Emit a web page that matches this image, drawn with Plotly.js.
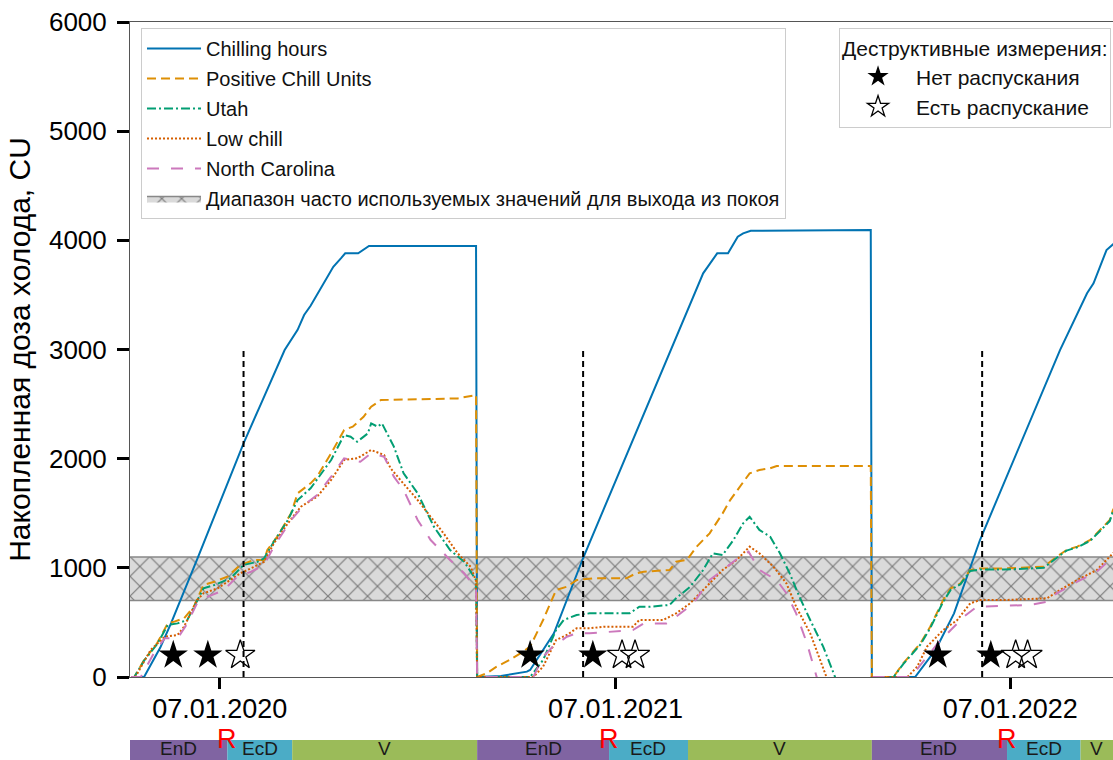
<!DOCTYPE html>
<html><head><meta charset="utf-8">
<script src="https://cdn.plot.ly/plotly-3.0.1.min.js"></script>
<style>html,body{margin:0;padding:0;background:#fff;} #chart{width:1113px;height:760px;}</style>
</head><body><div id="chart"></div>
<script>
// ---------------- DATA ----------------
const seasonStarts = ['2019-09-01', '2020-09-01', '2021-09-01'];   // day 0 of each season
const axisStart = '2019-10-16';
const axisEnd = '2022-04-12';
const tickDates = ['2020-01-07', '2021-01-07', '2022-01-07'];
const tickLabels = ['07.01.2020', '07.01.2021', '07.01.2022'];

// Chilling hours (days since season start, value)
const chDays1 = [46,58,73,83,108,129,150,166,177,188,200,206,212,219,226,233,240,244,256,261,266,365];
const chVals1 = [0,0,270,494,1100,1620,2141,2500,2745,2995,3180,3316,3400,3515,3640,3758,3835,3881,3881,3911,3948,3948];
const chDays2 = [0,22,46,49,71,98,151,204,209,222,232,241,246,253,364];
const chVals2 = [0,10,49,64,400,1090,2330,3575,3698,3881,3881,4033,4064,4088,4094];
const chDays3 = [0,40,59,76,100,174,199,205,217,224,230];
const chVals3 = [0,0,250,583,1255,2995,3515,3607,3911,3972,4050];

// Positive Chill Units
const pcuDays1 = [46,49,58,70,80,86,95,104,113,123,135,147,160,169,172,181,194,200,212,218,231,243,251,261,268,277,348,363,365];
const pcuVals1 = [0,0,155,309,492,507,538,644,843,873,919,1026,1072,1072,1163,1285,1500,1683,1774,1835,2049,2263,2293,2384,2476,2537,2552,2583,2583];
const pcuDays2 = [0,9,18,30,40,49,61,73,83,92,107,138,147,154,178,184,194,203,215,227,234,243,252,261,271,277,364];
const pcuVals2 = [0,34,95,156,217,278,522,797,827,888,904,904,950,964,980,1056,1072,1194,1316,1499,1621,1743,1866,1896,1912,1933,1933];
const pcuDays3 = [0,20,29,45,54,66,73,82,91,100,122,159,171,180,190,202,211,220,223,230];
const pcuVals3 = [0,0,125,309,461,705,812,858,980,995,995,1010,1102,1163,1194,1255,1347,1438,1530,1650];

// Utah
const utDays1 = [46,49,58,70,80,89,98,113,123,138,150,163,169,178,191,200,212,231,243,249,255,265,268,274,278,289,298,311,317,326,341,354,363,365];
const utVals1 = [0,0,150,300,476,491,522,812,843,904,1026,1056,1087,1239,1438,1621,1728,1988,2217,2201,2155,2232,2323,2293,2323,2110,1866,1683,1560,1377,1163,1056,919,888];
const utDays2 = [0,49,61,73,80,92,104,141,150,160,178,184,197,209,218,227,237,246,252,261,271,280,289,298,308,320,331,364];
const utVals2 = [0,0,156,430,522,568,583,583,644,644,660,721,827,980,1133,1117,1255,1408,1468,1347,1285,1133,950,736,522,278,0,-900];
const utDays3 = [0,20,29,45,54,66,73,82,91,100,122,159,171,180,190,202,211,220,223,230];
const utVals3 = [0,0,118,298,448,690,800,850,972,984,984,1000,1092,1158,1188,1248,1338,1428,1520,1640];

// Low chill
const lcDays1 = [46,50,64,77,89,95,107,113,126,138,147,160,169,178,191,203,218,231,243,255,268,280,286,295,311,323,335,348,360,365];
const lcVals1 = [0,0,247,369,385,461,705,767,812,888,950,1010,1056,1224,1408,1560,1652,1805,1988,2003,2079,2034,1912,1805,1621,1468,1316,1133,1010,880];
const lcDays2 = [0,52,61,73,83,92,104,117,144,150,172,184,197,215,227,240,252,261,274,286,295,308,323,364];
const lcVals2 = [0,0,95,339,385,446,446,461,461,522,522,583,675,858,980,1072,1194,1133,1010,858,644,400,0,-800];
const lcDays3 = [0,33,42,51,66,79,91,100,122,162,174,190,208,223,230];
const lcVals3 = [0,0,95,278,430,522,675,705,705,721,797,888,980,1133,1200];

// North Carolina
const ncDays1 = [46,55,67,77,89,98,107,117,132,144,157,169,178,194,206,218,231,243,258,268,280,289,298,311,323,335,341,354,365];
const ncVals1 = [0,0,217,354,354,491,675,736,797,919,964,1026,1194,1438,1576,1667,1835,2003,1972,2049,2018,1835,1713,1438,1255,1133,1072,950,812];
const ncDays2 = [0,52,61,70,83,92,104,123,144,154,175,184,200,215,227,243,251,261,277,286,295,305,314,364];
const ncVals2 = [0,0,186,278,369,400,400,415,430,491,491,552,675,888,980,1102,1148,980,888,767,583,309,0,-900];
const ncDays3 = [0,36,45,61,73,85,97,110,146,162,171,190,208,223,230];
const ncVals3 = [0,0,110,309,430,552,644,650,660,690,767,873,964,1102,1170];

// Commonly used chill range for dormancy release
const bandLow = 700;
const bandHigh = 1100;

// Destructive measurements (day of season)
const starLevel = 200;
const noBreakDays = [[85,117],[49,107],[61,110]];
const breakDays = [[147],[134,146],[133,144]];

// Vertical dashed markers (day of season) and their height
const markerDays = [150, 98, 102];
const markerTop = 3000;

// Phenological phases (day of season): EnD start, EcD start, V start, V end
const phaseBounds = [[0,135,195,366],[0,122,195,365],[0,125,193,365]];
const phaseNames = ['EnD','EcD','V'];

// ---------------- HELPERS ----------------
function dateOf(start, d) {
  const t = Date.parse(start + 'T00:00:00Z') + d * 86400000;
  return new Date(t).toISOString().slice(0, 10);
}
function build(daysList, valsList) {
  const x = [], y = [];
  daysList.forEach((days, s) => {
    days.forEach((d, i) => { x.push(dateOf(seasonStarts[s], d)); y.push(valsList[s][i]); });
  });
  return {x, y};
}
const FONT = 'Liberation Sans, Arial, sans-serif';
const C = {blue:'#0173b2', orange:'#de8f05', green:'#029e73', red:'#d55e00', pink:'#cc78bc'};

const traces = [];
// band
traces.push({
  type:'scatter', mode:'lines', name:'Диапазон часто используемых значений для выхода из покоя',
  x:['2019-09-01','2022-09-01','2022-09-01','2019-09-01','2019-09-01'],
  y:[bandLow,bandLow,bandHigh,bandHigh,bandLow],
  fill:'toself', fillcolor:'#dadada',
  fillpattern:{shape:'x', size:14, solidity:0.16, fgcolor:'#7a7a7a', bgcolor:'#dadada'},
  line:{color:'#888888', width:1.5}, legendrank:1000, legendgroup:'g6', hoverinfo:'skip'
});
const seriesDefs = [
  ['Chilling hours', [chDays1,chDays2,chDays3], [chVals1,chVals2,chVals3], C.blue, 'solid'],
  ['Positive Chill Units', [pcuDays1,pcuDays2,pcuDays3], [pcuVals1,pcuVals2,pcuVals3], C.orange, '9px,5px'],
  ['Utah', [utDays1,utDays2,utDays3], [utVals1,utVals2,utVals3], C.green, '9px,3px,2px,3px'],
  ['Low chill', [lcDays1,lcDays2,lcDays3], [lcVals1,lcVals2,lcVals3], C.red, '2px,2px'],
  ['North Carolina', [ncDays1,ncDays2,ncDays3], [ncVals1,ncVals2,ncVals3], C.pink, '12px,12px']
];
seriesDefs.forEach((s, i) => {
  const p = build(s[1], s[2]);
  traces.push({type:'scatter', mode:'lines', name:s[0], x:p.x, y:p.y,
    line:{color:s[3], width:2, dash:s[4]}, legendrank:i+1, legendgroup:'g'+i, hoverinfo:'skip'});
});
// dashed vertical markers
{
  const x = [], y = [];
  markerDays.forEach((d, s) => { const t = dateOf(seasonStarts[s], d); x.push(t, t, null); y.push(0, markerTop, null); });
  traces.push({type:'scatter', mode:'lines', x, y, showlegend:false, line:{color:'black', width:2, dash:'6px,4px'}, hoverinfo:'skip'});
}
// stars
function starPts(list) {
  const x = [], y = [];
  list.forEach((days, s) => days.forEach(d => { x.push(dateOf(seasonStarts[s], d)); y.push(starLevel); }));
  return {x, y};
}
const nb = starPts(noBreakDays), br = starPts(breakDays);
traces.push({type:'scatter', mode:'markers', name:'Нет распускания', x:nb.x, y:nb.y, legend:'legend2',
  marker:{symbol:'star', size:22, color:'black', line:{width:0}}, cliponaxis:false, hoverinfo:'skip'});
traces.push({type:'scatter', mode:'markers', name:'Есть распускание', x:br.x, y:br.y, legend:'legend2',
  marker:{symbol:'star-open', size:22, color:'black', line:{width:1.3, color:'black'}}, cliponaxis:false, hoverinfo:'skip'});

// phase bar
const phaseColors = ['#8064a2','#4bacc6','#9bbb59'];
const shapes = [], annotations = [];
const barTop = -0.0962, barBottom = -0.25;
const aStart = Date.parse(axisStart), aEnd = Date.parse(axisEnd);
phaseBounds.forEach((b, s) => {
  for (let k = 0; k < 3; k++) {
    const x0 = dateOf(seasonStarts[s], b[k]), x1 = dateOf(seasonStarts[s], b[k+1]);
    shapes.push({type:'rect', xref:'x', yref:'paper', x0, x1, y0:barTop, y1:barBottom,
      fillcolor:phaseColors[k], line:{width:0}, layer:'above'});
    const v0 = Math.max(Date.parse(x0), aStart), v1 = Math.min(Date.parse(x1), aEnd);
    const mid = new Date((v0 + v1) / 2).toISOString().slice(0, 10);
    annotations.push({xref:'x', yref:'paper', x:mid, y:-0.1267, text:phaseNames[k], showarrow:false,
      font:{family:FONT, size:19, color:'#1a1a1a'}, xanchor:'center', yanchor:'bottom', borderpad:0});
  }
  annotations.push({xref:'x', yref:'paper', x:dateOf(seasonStarts[s], b[1]), y:-0.0947, text:'R', showarrow:false,
    font:{family:FONT, size:27, color:'#ff0000'}, xanchor:'center', yanchor:'middle'});
});

const layout = {
  width:1113, height:760,
  margin:{l:130, r:0, t:22, b:83},
  paper_bgcolor:'white', plot_bgcolor:'white',
  font:{family:FONT, color:'black'},
  showlegend:true,
  xaxis:{type:'date', range:[axisStart, axisEnd], tickvals:tickDates, ticktext:tickLabels,
    ticks:'outside', ticklen:11, tickwidth:3, tickcolor:'black', tickfont:{size:27, family:FONT},
    ticklabelstandoff:-3,
    showline:true, linecolor:'#555', linewidth:1, mirror:true, showgrid:false, zeroline:false},
  yaxis:{range:[0,6000], tickvals:[0,1000,2000,3000,4000,5000,6000],
    ticks:'outside', ticklen:12, tickwidth:3, tickcolor:'black', tickfont:{size:26, family:FONT},
    ticklabelstandoff:5,
    showline:true, linecolor:'#555', linewidth:1, showgrid:false, zeroline:false,
    title:{text:'Накопленная доза холода, CU', font:{size:30, family:FONT}, standoff:9}},
  legend:{x:0.0112, y:0.9908, xanchor:'left', yanchor:'top', font:{size:20, family:FONT, color:'#111'},
    traceorder:'grouped', tracegroupgap:1,
    bgcolor:'rgba(255,255,255,0.9)', bordercolor:'#cccccc', borderwidth:1, itemwidth:54},
  legend2:{x:0.998, y:0.9908, xanchor:'right', yanchor:'top', font:{size:21, family:FONT, color:'#111'},
    title:{text:'Деструктивные измерения:', font:{size:21, family:FONT, color:'#111'}},
    bgcolor:'rgba(255,255,255,0.9)', bordercolor:'#cccccc', borderwidth:1, itemwidth:66},
  shapes, annotations, hovermode:false
};
Plotly.newPlot('chart', traces, layout, {displayModeBar:false, staticPlot:true});
</script></body></html>
